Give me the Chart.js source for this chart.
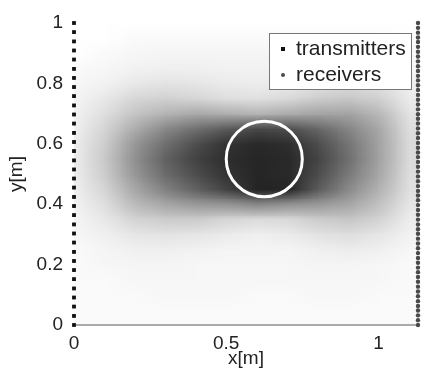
<!DOCTYPE html>
<html>
<head>
<meta charset="utf-8">
<script src="https://cdn.jsdelivr.net/npm/chart.js@4.4.1/dist/chart.umd.min.js"></script>
<style>
  html, body { margin: 0; padding: 0; background: #fff; }
  #wrap { width: 424px; height: 371px; }
</style>
</head>
<body>
<div id="wrap"><canvas id="imgChart" width="424" height="371"></canvas></div>
<script>
// array geometry [m]
const transmitterX = 0;
const transmitterY = [0, 0.030, 0.061, 0.091, 0.121, 0.152, 0.182, 0.212, 0.242, 0.273,
  0.303, 0.333, 0.364, 0.394, 0.424, 0.455, 0.485, 0.515, 0.545, 0.576, 0.606, 0.636,
  0.667, 0.697, 0.727, 0.758, 0.788, 0.818, 0.848, 0.879, 0.909, 0.939, 0.970, 1];
const receiverX = 1.13;
const receiverY = [0, 0.016, 0.032, 0.048, 0.063, 0.079, 0.095, 0.111, 0.127, 0.143,
  0.159, 0.175, 0.190, 0.206, 0.222, 0.238, 0.254, 0.270, 0.286, 0.302, 0.317, 0.333,
  0.349, 0.365, 0.381, 0.397, 0.413, 0.429, 0.444, 0.460, 0.476, 0.492, 0.508, 0.524,
  0.540, 0.556, 0.571, 0.587, 0.603, 0.619, 0.635, 0.651, 0.667, 0.683, 0.698, 0.714,
  0.730, 0.746, 0.762, 0.778, 0.794, 0.810, 0.825, 0.841, 0.857, 0.873, 0.889, 0.905,
  0.921, 0.937, 0.952, 0.968, 0.984, 1];

// reconstructed image, darkness in % (rows run from y = 1 down to y = 0)
const imageX = [0, 0.1, 0.2, 0.3, 0.4, 0.5, 0.6, 0.7, 0.8, 0.9, 1.0, 1.1];
const imageY = [1, 0.95, 0.9, 0.85, 0.8, 0.75, 0.7, 0.65, 0.6, 0.55, 0.5,
  0.45, 0.4, 0.35, 0.3, 0.25, 0.2, 0.15, 0.1, 0.05, 0];
const imageLevels = [
  [0, 0, 0, 0, 0, 0, 0, 0, 0, 0, 0, 0],
  [0, 0, 2, 2, 2, 2, 2, 2, 2, 2, 2, 0],
  [0, 2, 3, 4, 4, 4, 4, 4, 4, 4, 3, 2],
  [2, 3, 5, 6, 6, 5, 5, 5, 6, 7, 6, 3],
  [3, 5, 9, 11, 10, 8, 7, 8, 11, 14, 12, 6],
  [4, 9, 16, 18, 16, 13, 12, 15, 20, 22, 18, 8],
  [5, 13, 23, 30, 34, 32, 30, 33, 36, 36, 28, 11],
  [6, 17, 33, 47, 57, 65, 72, 70, 60, 48, 34, 13],
  [7, 20, 41, 57, 70, 80, 84, 82, 70, 54, 36, 14],
  [7, 21, 44, 62, 74, 82, 85, 84, 73, 56, 36, 14],
  [7, 20, 41, 58, 70, 80, 85, 84, 70, 52, 34, 13],
  [6, 17, 35, 50, 62, 74, 86, 85, 64, 46, 30, 12],
  [5, 13, 27, 35, 40, 42, 47, 43, 40, 35, 24, 10],
  [4, 9, 17, 20, 20, 16, 14, 15, 20, 22, 17, 7],
  [3, 6, 10, 11, 10, 8, 6, 8, 11, 13, 10, 5],
  [2, 4, 6, 6, 5, 4, 4, 4, 6, 7, 6, 3],
  [2, 3, 4, 4, 3, 3, 3, 3, 4, 4, 3, 2],
  [2, 2, 3, 3, 3, 3, 3, 3, 3, 3, 3, 2],
  [2, 2, 2, 3, 3, 3, 2, 2, 3, 3, 2, 2],
  [2, 2, 2, 2, 2, 2, 2, 2, 2, 2, 2, 2],
  [2, 2, 2, 2, 2, 2, 2, 2, 2, 2, 2, 2]
];

// true scatterer outline
const targetCenter = [0.625, 0.55];
const targetRadius = 0.125;

const xTicks = [0, 0.5, 1];
const yTicks = [0, 0.2, 0.4, 0.6, 0.8, 1];

const FONT = '"Liberation Sans", Arial, sans-serif';
const TEXT = '#222';

// grey-scale image, upsampled smoothly onto the plot area
const imagePlugin = {
  id: 'reconstruction',
  beforeDraw(chart) {
    const {ctx, chartArea, scales: {x, y}} = chart;
    const nx = imageX.length, ny = imageY.length;
    const off = document.createElement('canvas');
    off.width = nx;
    off.height = ny;
    const octx = off.getContext('2d');
    const img = octx.createImageData(nx, ny);
    imageLevels.forEach((row, j) => row.forEach((v, i) => {
      const g = Math.round(255 * (1 - v / 100));
      const k = (j * nx + i) * 4;
      img.data[k] = img.data[k + 1] = img.data[k + 2] = g;
      img.data[k + 3] = 255;
    }));
    octx.putImageData(img, 0, 0);

    const hx = (imageX[1] - imageX[0]) / 2;
    const hy = (imageY[0] - imageY[1]) / 2;
    const left = x.getPixelForValue(imageX[0] - hx);
    const right = x.getPixelForValue(imageX[nx - 1] + hx);
    const top = y.getPixelForValue(imageY[0] + hy);
    const bottom = y.getPixelForValue(imageY[ny - 1] - hy);

    ctx.save();
    ctx.beginPath();
    ctx.rect(chartArea.left, chartArea.top, chartArea.right - chartArea.left, chartArea.bottom - chartArea.top);
    ctx.clip();
    ctx.imageSmoothingEnabled = true;
    ctx.drawImage(off, left, top, right - left, bottom - top);
    ctx.restore();
  }
};

const targetPlugin = {
  id: 'target',
  afterDatasetsDraw(chart) {
    const {ctx, scales: {x, y}} = chart;
    const cx = x.getPixelForValue(targetCenter[0]);
    const cy = y.getPixelForValue(targetCenter[1]);
    const rx = x.getPixelForValue(targetCenter[0] + targetRadius) - cx;
    const ry = cy - y.getPixelForValue(targetCenter[1] + targetRadius);
    ctx.save();
    ctx.strokeStyle = '#fff';
    ctx.lineWidth = 3;
    ctx.beginPath();
    ctx.ellipse(cx, cy, rx, ry, 0, 0, 2 * Math.PI);
    ctx.stroke();
    ctx.restore();
  }
};

// boxed legend in the upper right corner of the plot
const legendPlugin = {
  id: 'arrayLegend',
  afterDraw(chart) {
    const {ctx, chartArea} = chart;
    const sets = chart.data.datasets;
    ctx.save();
    ctx.font = '21px ' + FONT;
    const textW = Math.max(...sets.map(d => ctx.measureText(d.label).width));
    const w = Math.round(textW + 32), h = 56;
    const bx = Math.round(chartArea.right - 7 - w), by = Math.round(chartArea.top + 10);
    ctx.fillStyle = '#fff';
    ctx.fillRect(bx, by, w, h);
    ctx.strokeStyle = '#777';
    ctx.lineWidth = 1;
    ctx.strokeRect(bx + 0.5, by + 0.5, w, h);
    ctx.textBaseline = 'middle';
    sets.forEach((d, i) => {
      const ly = by + 16 + i * 26;
      ctx.fillStyle = d.backgroundColor;
      if (d.pointStyle === 'rect') {
        ctx.fillRect(bx + 12, ly - 2, 4, 4);
      } else {
        ctx.beginPath();
        ctx.arc(bx + 14, ly, 2, 0, 2 * Math.PI);
        ctx.fill();
      }
      ctx.fillStyle = TEXT;
      ctx.fillText(d.label, bx + 27, ly);
    });
    ctx.restore();
  }
};

new Chart(document.getElementById('imgChart').getContext('2d'), {
  type: 'scatter',
  data: {
    datasets: [{
      label: 'transmitters',
      data: transmitterY.map(v => ({x: transmitterX, y: v})),
      pointStyle: 'rect',
      pointRadius: 2.7,
      backgroundColor: '#111',
      borderWidth: 0,
      clip: false
    }, {
      label: 'receivers',
      data: receiverY.map(v => ({x: receiverX, y: v})),
      pointStyle: 'circle',
      pointRadius: 2.2,
      backgroundColor: '#4a4a4a',
      borderWidth: 0,
      clip: false
    }]
  },
  options: {
    responsive: false,
    animation: false,
    events: [],
    layout: { padding: { top: 23, right: 6, left: 0, bottom: 0 } },
    plugins: {
      legend: { display: false },
      tooltip: { enabled: false }
    },
    scales: {
      x: {
        type: 'linear',
        min: 0,
        max: 1.13,
        afterBuildTicks: s => { s.ticks = xTicks.map(v => ({value: v})); },
        afterFit: s => { s.height = 46; },
        grid: { display: false, drawTicks: false },
        border: { display: true, color: '#aaa', width: 2 },
        ticks: { padding: 7, color: TEXT, font: { family: FONT, size: 19 }, maxRotation: 0, autoSkip: false,
                 callback: v => String(v) },
        title: { display: true, text: 'x[m]', color: TEXT, font: { family: FONT, size: 19 },
                 padding: { top: 0, bottom: 1 } }
      },
      y: {
        type: 'linear',
        min: 0,
        max: 1,
        afterBuildTicks: s => { s.ticks = yTicks.map(v => ({value: v})); },
        afterFit: s => { s.width = 74; },
        grid: { display: false, drawTicks: false },
        border: { display: false },
        ticks: { padding: 11, color: TEXT, font: { family: FONT, size: 19 }, autoSkip: false,
                 callback: v => String(v) },
        title: { display: true, text: 'y[m]', color: TEXT, font: { family: FONT, size: 19 },
                 padding: { top: 5, bottom: 0 } }
      }
    }
  },
  plugins: [imagePlugin, targetPlugin, legendPlugin]
});
</script>
</body>
</html>
